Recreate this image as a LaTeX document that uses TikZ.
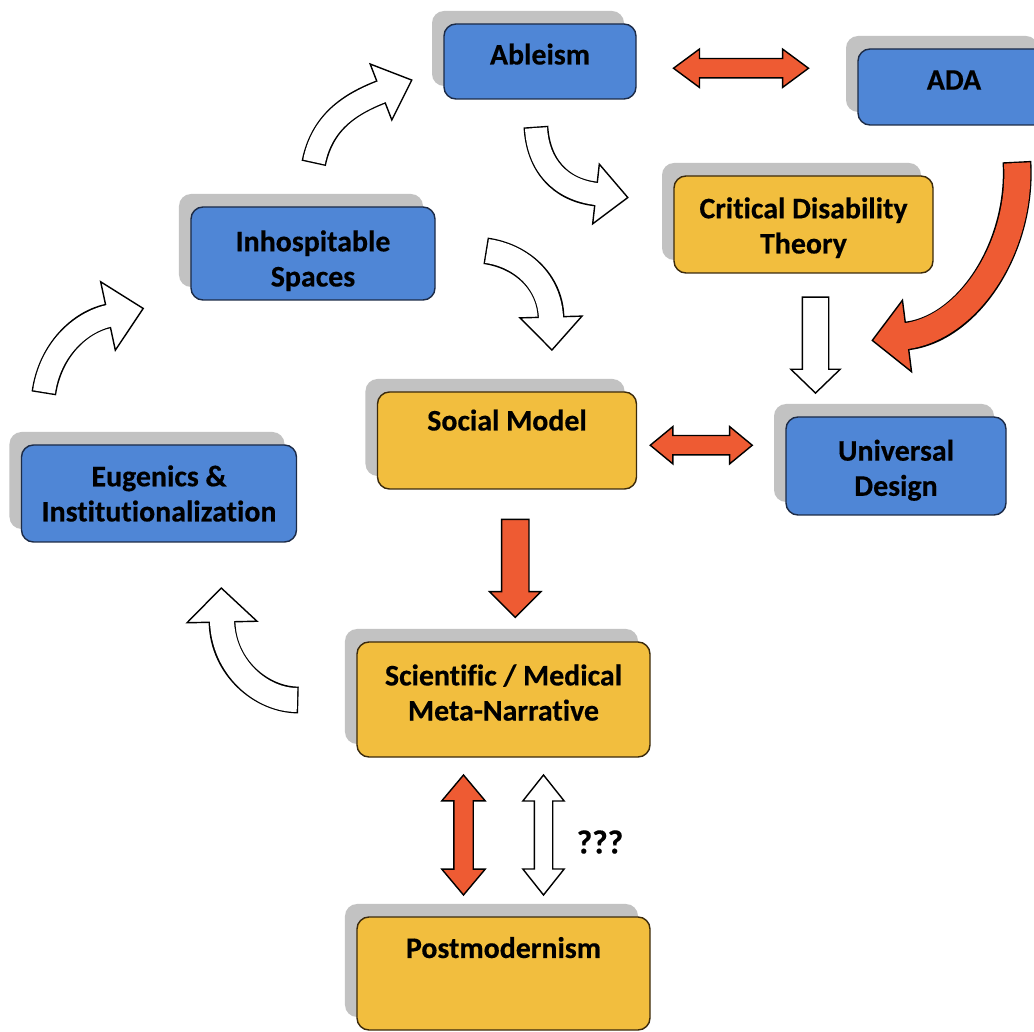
\documentclass[tikz,border=0pt]{standalone}
\usepackage{fontspec}
\setmainfont{Carlito}[Ligatures=NoCommon,BoldFeatures={FakeBold=0.4}]
\usetikzlibrary{calc,positioning,shadows,shapes.arrows}

\definecolor{boxblue}{HTML}{4F86D6}
\definecolor{boxgold}{HTML}{F2BE3E}
\definecolor{arrowred}{HTML}{EE5B33}
\definecolor{shadowgray}{HTML}{C2C2C2}
\definecolor{blueline}{HTML}{1C2B47}
\definecolor{goldline}{HTML}{3B2A0C}

\tikzset{
  box/.style={rectangle,rounded corners=2.4mm,line width=0.8pt,align=center,inner sep=0pt,
    font=\fontsize{17}{20}\selectfont\bfseries,
    drop shadow={shadow xshift=-2.4mm,shadow yshift=2.6mm,fill=shadowgray,opacity=1}},
  bluebox/.style={box,fill=boxblue,draw=blueline},
  goldbox/.style={box,fill=boxgold,draw=goldline},
  redarrow/.style={draw=black,fill=arrowred,line width=0.8pt,inner xsep=0pt},
  whitearrow/.style={draw=black,fill=white,line width=0.8pt,inner xsep=0pt},
  qmark/.style={font=\fontsize{19}{20}\selectfont\bfseries,inner sep=0pt}
}

% curved block arrow: colour, tail, two controls, shaft end, shaft width, half head, head length
\newcommand\bentarrow[8]{%
  \draw[line width=#6+1.6pt,shorten <=-0.8pt] #2 .. controls #3 and #4 .. #5;
  \draw[fill=#1,line width=0.8pt] ($#5!#7!90:#4$) -- ($#5!-#8!#4$) -- ($#5!#7!-90:#4$) -- cycle;
  \draw[line width=#6,draw=#1,shorten >=-1.2pt] #2 .. controls #3 and #4 .. #5;
}

\begin{document}
\begin{tikzpicture}[x=0.2mm,y=-0.2mm]
\clip (0,0) rectangle (1034,1032);

\node[bluebox,minimum width=38.4mm,minimum height=15mm,text depth=3mm](abl) at (540,61.5){Ableism};
\node[bluebox,minimum width=38.4mm,minimum height=15.2mm,text depth=2.8mm](ada) at (954,87){ADA};
\node[goldbox,minimum width=51.8mm,minimum height=19.4mm](cdt) at (803.5,224.5){\rule{0pt}{5.5mm}Critical Disability\\Theory};
\node[bluebox,minimum width=48.8mm,minimum height=18.6mm](inh) at (313,253.5){\rule{0pt}{7.1mm}Inhospitable\\Spaces};
\node[goldbox,minimum width=51.8mm,minimum height=19.4mm,text depth=8.2mm](soc) at (507,440.5){Social Model};
\node[bluebox,minimum width=44mm,minimum height=19.6mm](ud) at (896,466){\rule{0pt}{5.9mm}Universal\\Design};
\node[bluebox,minimum width=55mm,minimum height=19.4mm](eug) at (159,493.5){Eugenics \&\\Institutionalization};
\node[goldbox,minimum width=58.6mm,minimum height=23mm](sci) at (503.5,699.5){Scientific / Medical\\Meta-Narrative\rule[-2.8mm]{0pt}{2.8mm}};
\node[goldbox,minimum width=58.6mm,minimum height=22.6mm,text depth=10.4mm](pm) at (503.5,973.5){Postmodernism};

\node[redarrow,double arrow,minimum height=27mm,inner ysep=1.8mm,double arrow head extend=1.9mm,
  double arrow tip angle=73](abl-ada) at ($(abl.east)!.5!(ada.west)+(-6,-6)$){};
\node[redarrow,double arrow,minimum height=20.4mm,inner ysep=1.8mm,double arrow head extend=1.8mm,
  double arrow tip angle=79](soc-ud) at ($(soc.east)!.5!(ud.west)+(-10,-8)$){};
\node[redarrow,single arrow,minimum height=19.6mm,inner ysep=2.6mm,single arrow head extend=2.4mm,
  single arrow tip angle=90,rotate=-90](soc-sci) at ($(soc.south)!.5!(sci.north)+(10,-4)$){};
\node[whitearrow,single arrow,minimum height=19.2mm,inner ysep=2.5mm,single arrow head extend=2.3mm,
  single arrow tip angle=92,rotate=-90](cdt-ud) at ($(cdt.south)+(12,65)$){};
\node[redarrow,double arrow,minimum height=24mm,inner ysep=1.8mm,double arrow head extend=2.4mm,
  double arrow tip angle=80,rotate=90](sci-pm) at ($(sci.south)!.5!(pm.north)+(-40,-2)$){};
\node[whitearrow,double arrow,minimum height=24mm,inner ysep=1.7mm,double arrow head extend=2.3mm,
  double arrow tip angle=77,rotate=90](pm-sci) at ($(sci.south)!.5!(pm.north)+(40,-2)$){};
\node[qmark,anchor=west](ask) at ($(pm-sci.south)+(23,7)$){???};

\bentarrow{white}{(44,392)}{(50,350)}{(80,322)}{(108,316)}{4.4mm}{7mm}{7.2mm}
\bentarrow{white}{(314,162)}{(322,122)}{(350,104)}{(381,92)}{4.4mm}{6mm}{6.6mm}
\bentarrow{white}{(536,128)}{(538,165)}{(560,190)}{(596,194)}{4.4mm}{6mm}{6.4mm}
\bentarrow{white}{(487,251)}{(522,256)}{(550,282)}{(551,317)}{4.8mm}{6.2mm}{6.6mm}
\bentarrow{white}{(297,700)}{(262,700)}{(223,668)}{(222,622)}{4.8mm}{7mm}{6.8mm}
\bentarrow{arrowred}{(1017,163)}{(1022,245)}{(970,328)}{(907,336)}{5.2mm}{7.2mm}{7mm}
\end{tikzpicture}
\end{document}
